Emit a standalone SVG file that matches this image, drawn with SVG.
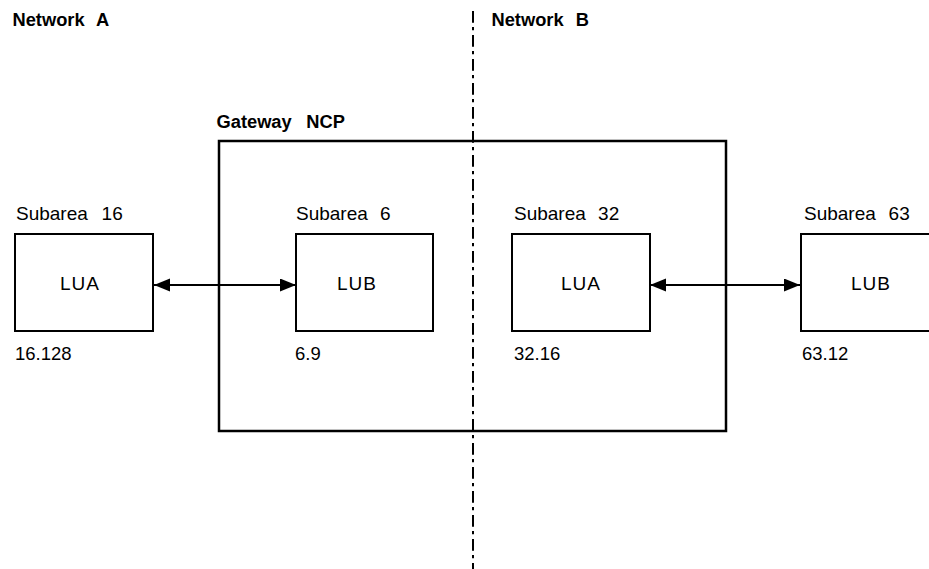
<svg xmlns="http://www.w3.org/2000/svg" width="929" height="569" viewBox="0 0 929 569">
<style>
.t{font-family:"Liberation Sans",Arial,sans-serif;font-size:19px;fill:#000}
.n{font-family:"Liberation Sans",Arial,sans-serif;font-size:18.5px;fill:#000}
.l{font-family:"Liberation Sans",Arial,sans-serif;font-size:19px;fill:#000;letter-spacing:1px}
.b{font-family:"Liberation Sans",Arial,sans-serif;font-size:18.3px;font-weight:bold;fill:#000}
.box{fill:#fff;stroke:#000;stroke-width:2}
.gw{fill:none;stroke:#000;stroke-width:2.5}
.conn{stroke:#000;stroke-width:2;fill:none}
</style>
<defs>
<marker id="ah" markerWidth="17" markerHeight="14" refX="16" refY="6.5" orient="auto-start-reverse" markerUnits="userSpaceOnUse">
<path d="M0,0 L16,6.5 L0,13 Z" fill="#000"/>
</marker>
</defs>
<text class="b" x="12.5" y="26" word-spacing="7">Network A</text>
<text class="b" x="491.5" y="26" word-spacing="7">Network B</text>
<g id="gateway">
<rect class="gw" x="219" y="141" width="507" height="290"/>
<text class="b" x="216.5" y="128" word-spacing="9.5">Gateway NCP</text>
</g>
<line x1="473" y1="11" x2="473" y2="569" stroke="#000" stroke-width="2" stroke-dasharray="11.7 4.3 3.3 4.7"/>
<g id="s16">
<text class="t" x="16" y="220" word-spacing="8.5">Subarea 16</text>
<rect class="box" x="15" y="234" width="138" height="97"/>
<text class="l" x="60" y="290">LUA</text>
<text class="n" x="15" y="360">16.128</text>
</g>
<g id="s6">
<text class="t" x="296" y="220" word-spacing="7">Subarea 6</text>
<rect class="box" x="296" y="234" width="137" height="97"/>
<text class="l" x="337" y="290">LUB</text>
<text class="n" x="295" y="360">6.9</text>
</g>
<g id="s32">
<text class="t" x="514" y="220" word-spacing="7">Subarea 32</text>
<rect class="box" x="512" y="234" width="138" height="97"/>
<text class="l" x="561" y="290">LUA</text>
<text class="n" x="514" y="360">32.16</text>
</g>
<g id="s63">
<text class="t" x="804" y="220" word-spacing="7.5">Subarea 63</text>
<rect class="box" x="801" y="234" width="138" height="97"/>
<text class="l" x="851" y="290">LUB</text>
<text class="n" x="802" y="360">63.12</text>
</g>
<g id="connectors">
<line class="conn" x1="154" y1="285" x2="296" y2="285" marker-start="url(#ah)" marker-end="url(#ah)"/>
<line class="conn" x1="650" y1="285" x2="800" y2="285" marker-start="url(#ah)" marker-end="url(#ah)"/>
</g>
</svg>
